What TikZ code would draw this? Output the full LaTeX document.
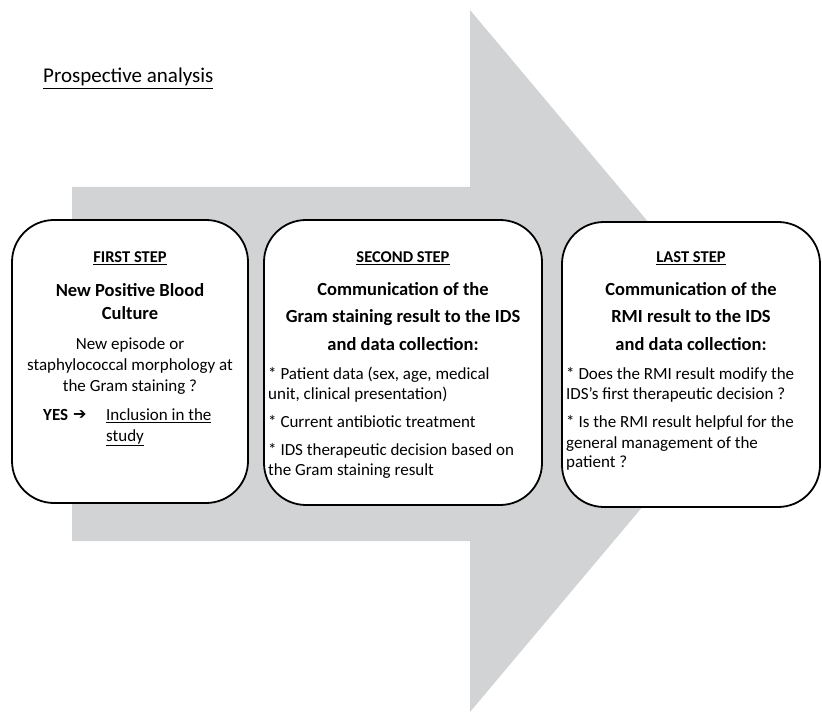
\documentclass[tikz,border=0pt]{standalone}
\usepackage{fontspec}
\setmainfont{Carlito}
\newfontfamily\dejavu{DejaVu Sans}
\begin{document}
\begin{tikzpicture}[x=1pt,y=1pt,
  stepbox/.style={draw=black,line width=1.8pt,rounded corners=42pt,fill=white},
  body/.style={inner sep=0pt,anchor=base,font=\fontsize{17}{20}\selectfont},
  bodyl/.style={inner sep=0pt,anchor=base west,font=\fontsize{17}{20}\selectfont},
  ttl/.style={inner sep=0pt,anchor=base,font=\fontsize{18.5}{22}\selectfont\bfseries},
  hdr/.style={inner sep=0pt,anchor=base,font=\fontsize{16.5}{20}\selectfont\bfseries}]
\useasboundingbox (0,0) rectangle (822,713);
% big gray arrow
\fill[fill={rgb,255:red,209;green,211;blue,212}]
  (72,526) -- (470,526) -- (470,703) -- (765,352) -- (470,1) -- (470,172) -- (72,172) -- cycle;
% title
\node[inner sep=0pt,anchor=base west,font=\fontsize{21}{25}\selectfont] (title) at (43,630) {\underline{Prospective analysis}};
% boxes
\draw[stepbox] (12,210) rectangle (248,493);
\draw[stepbox] (264,208) rectangle (542,493);
\draw[stepbox] (562,206) rectangle (820,491);
% box 1
\node[hdr] (h1) at (130,450) {\underline{FIRST STEP}};
\node[ttl] (t1a) at (130,416) {New Positive Blood};
\node[ttl] (t1b) at (130,393) {Culture};
\node[body] (b1a) at (130,363) {New episode or};
\node[body] (b1b) at (130,342) {staphylococcal morphology at};
\node[body] (b1c) at (130,321) {the Gram staining ?};
\node[inner sep=0pt,anchor=base west,font=\fontsize{17}{20}\selectfont\bfseries] (yes) at (43,292) {YES};
\node[inner sep=0pt,anchor=base west,font=\dejavu\bfseries\fontsize{16}{20}\selectfont] (arr) at (73,293) {➔};
\node[bodyl] (inc1) at (106,292) {\underline{Inclusion in the}};
\node[bodyl] (inc2) at (106,272) {\underline{study}};
% box 2
\node[hdr] (h2) at (403,450) {\underline{SECOND STEP}};
\node[ttl] (t2a) at (403,417) {Communication of the};
\node[ttl] (t2b) at (403,390) {Gram staining result to the IDS};
\node[ttl] (t2c) at (403,362) {and data collection:};
\node[bodyl] (b2a) at (268,333) {* Patient data (sex, age, medical};
\node[bodyl] (b2b) at (268,313) {unit, clinical presentation)};
\node[bodyl] (b2c) at (268,285) {* Current antibiotic treatment};
\node[bodyl] (b2d) at (268,258) {* IDS therapeutic decision based on};
\node[bodyl] (b2e) at (268,238) {the Gram staining result};
% box 3
\node[hdr] (h3) at (691,450) {\underline{LAST STEP}};
\node[ttl] (t3a) at (691,417) {Communication of the};
\node[ttl] (t3b) at (691,390) {RMI result to the IDS};
\node[ttl] (t3c) at (691,362) {and data collection:};
\node[bodyl] (b3a) at (566,333) {* Does the RMI result modify the};
\node[bodyl] (b3b) at (566,313) {IDS’s first therapeutic decision ?};
\node[bodyl] (b3c) at (566,285) {* Is the RMI result helpful for the};
\node[bodyl] (b3d) at (566,265) {general management of the};
\node[bodyl] (b3e) at (566,245) {patient ?};
\end{tikzpicture}
\end{document}
